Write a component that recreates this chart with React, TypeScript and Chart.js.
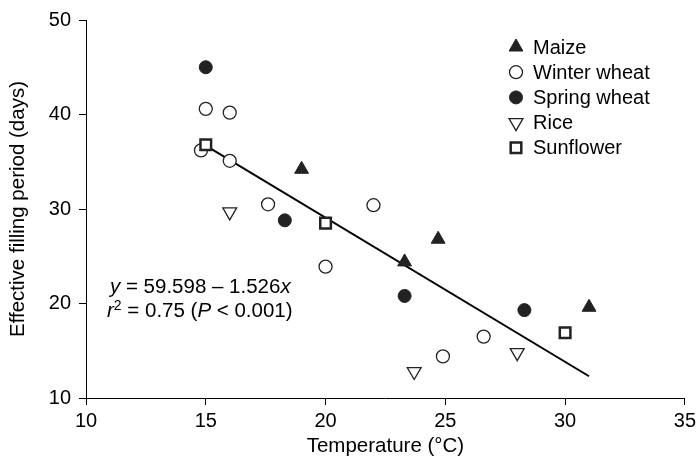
import React, { useEffect, useRef } from 'react';
import { Chart, registerables } from 'chart.js';
import { drawPoint } from 'chart.js/helpers';

Chart.register(...registerables);

// ---- data ----
const xTickValues = [10, 15, 20, 25, 30, 35];
const yTickValues = [10, 20, 30, 40, 50];

const maizeTemp = [19, 23.3, 24.7, 31];
const maizeDays = [34.2, 24.4, 26.8, 19.6];

const winterTemp = [14.8, 15, 16, 16, 17.6, 20, 22, 24.9, 26.6];
const winterDays = [36.2, 40.6, 40.2, 35.1, 30.5, 23.9, 30.4, 14.4, 16.5];

const springTemp = [15, 18.3, 23.3, 28.3];
const springDays = [45, 28.8, 20.8, 19.3];

const riceTemp = [16, 23.7, 28];
const riceDays = [29.7, 12.8, 14.8];

const sunflowerTemp = [15, 20, 30];
const sunflowerDays = [36.8, 28.5, 16.9];

const fitTemp = [15, 31];
const fitDays = [36.7, 12.3];

const seriesNames = ['Maize', 'Winter wheat', 'Spring wheat', 'Rice', 'Sunflower'];
const xTitle = 'Temperature (°C)';
const yTitle = 'Effective filling period (days)';

const FONT = '"Liberation Sans", Arial, Helvetica, sans-serif';
const DARK = '#222222';

const pts = (xs: number[], ys: number[]) => xs.map((x, i) => ({ x, y: ys[i] }));

const legendPlugin = {
  id: 'customLegend',
  afterDraw(chart: any) {
    const ctx = chart.ctx as CanvasRenderingContext2D;
    ctx.save();
    const x0 = 516;
    const y0 = 47;
    const dy = 25.2;
    const sets = chart.data.datasets
      .filter((d: any) => d.legendIndex !== undefined)
      .sort((a: any, b: any) => a.legendIndex - b.legendIndex);
    sets.forEach((ds: any, i: number) => {
      const y = y0 + i * dy;
      ctx.fillStyle = ds.backgroundColor;
      ctx.strokeStyle = ds.borderColor;
      ctx.lineWidth = ds.borderWidth;
      drawPoint(
        ctx,
        {
          pointStyle: ds.pointStyle,
          rotation: ds.pointRotation || 0,
          radius: ds.pointRadius,
          borderWidth: ds.borderWidth,
        } as any,
        x0,
        y
      );
      ctx.fillStyle = '#000';
      ctx.font = `20px ${FONT}`;
      ctx.textBaseline = 'middle';
      ctx.textAlign = 'left';
      ctx.fillText(ds.label, x0 + 17, y + 1);
    });
    ctx.restore();
  },
};

type Run = { t: string; italic?: boolean; sup?: boolean };

const annotationPlugin = {
  id: 'fitAnnotation',
  afterDraw(chart: any) {
    const ctx = chart.ctx as CanvasRenderingContext2D;
    ctx.save();
    ctx.fillStyle = '#000';
    ctx.textBaseline = 'alphabetic';
    ctx.textAlign = 'left';
    const lines: { x: number; y: number; runs: Run[] }[] = [
      {
        x: 110,
        y: 293,
        runs: [{ t: 'y', italic: true }, { t: ' = 59.598 – 1.526' }, { t: 'x', italic: true }],
      },
      {
        x: 107,
        y: 317,
        runs: [
          { t: 'r', italic: true },
          { t: '2', sup: true },
          { t: ' = 0.75 (' },
          { t: 'P', italic: true },
          { t: ' < 0.001)' },
        ],
      },
    ];
    lines.forEach((line) => {
      let x = line.x;
      line.runs.forEach((r) => {
        const size = r.sup ? 14 : 20.5;
        ctx.font = `${r.italic ? 'italic ' : ''}${size}px ${FONT}`;
        ctx.fillText(r.t, x, r.sup ? line.y - 7 : line.y);
        x += ctx.measureText(r.t).width;
      });
    });
    ctx.restore();
  },
};

export default function App() {
  const canvasRef = useRef<HTMLCanvasElement | null>(null);

  useEffect(() => {
    if (!canvasRef.current) return;
    const chart = new Chart(canvasRef.current, {
      type: 'scatter',
      data: {
        datasets: [
          {
            label: seriesNames[4],
            data: pts(sunflowerTemp, sunflowerDays),
            pointStyle: 'rect',
            pointRadius: 7.5,
            pointHoverRadius: 7.5,
            backgroundColor: '#ffffff',
            borderColor: DARK,
            borderWidth: 2.5,
            legendIndex: 4,
            order: 1,
          } as any,
          {
            label: seriesNames[0],
            data: pts(maizeTemp, maizeDays),
            pointStyle: 'triangle',
            pointRadius: 8,
            pointHoverRadius: 8,
            backgroundColor: DARK,
            borderColor: DARK,
            borderWidth: 1,
            legendIndex: 0,
            order: 2,
          } as any,
          {
            label: seriesNames[1],
            data: pts(winterTemp, winterDays),
            pointStyle: 'circle',
            pointRadius: 6.5,
            pointHoverRadius: 6.5,
            backgroundColor: '#ffffff',
            borderColor: DARK,
            borderWidth: 1.3,
            legendIndex: 1,
            order: 3,
          } as any,
          {
            label: seriesNames[2],
            data: pts(springTemp, springDays),
            pointStyle: 'circle',
            pointRadius: 6.5,
            pointHoverRadius: 6.5,
            backgroundColor: DARK,
            borderColor: DARK,
            borderWidth: 1,
            legendIndex: 2,
            order: 4,
          } as any,
          {
            label: seriesNames[3],
            data: pts(riceTemp, riceDays),
            pointStyle: 'triangle',
            pointRotation: 180,
            pointRadius: 8,
            pointHoverRadius: 8,
            backgroundColor: '#ffffff',
            borderColor: DARK,
            borderWidth: 1.3,
            legendIndex: 3,
            order: 5,
          } as any,
          {
            type: 'line',
            label: 'fit',
            data: pts(fitTemp, fitDays),
            borderColor: '#000',
            borderWidth: 2,
            pointRadius: 0,
            fill: false,
            showLine: true,
            order: 10,
          } as any,
        ],
      },
      options: {
        responsive: false,
        animation: false,
        events: [],
        layout: { padding: { left: 0, right: 15, top: 20, bottom: 0 } },
        plugins: {
          legend: { display: false },
          tooltip: { enabled: false },
        },
        scales: {
          x: {
            type: 'linear',
            min: 10,
            max: 35,
            afterFit: (s: any) => {
              s.height = 64;
            },
            afterBuildTicks: (s: any) => {
              s.ticks = xTickValues.map((v) => ({ value: v }));
            },
            grid: {
              display: true,
              drawOnChartArea: false,
              drawTicks: true,
              tickLength: 7,
              color: '#000',
              lineWidth: 1,
            },
            border: { display: true, color: '#000', width: 1 },
            ticks: {
              color: '#000',
              padding: 4,
              font: { family: FONT, size: 20 },
            },
            title: {
              display: true,
              text: xTitle,
              color: '#000',
              font: { family: FONT, size: 20.5 },
              padding: { top: 0, bottom: 3 },
            },
          },
          y: {
            type: 'linear',
            min: 10,
            max: 50,
            afterFit: (s: any) => {
              s.width = 86;
            },
            afterBuildTicks: (s: any) => {
              s.ticks = yTickValues.map((v) => ({ value: v }));
            },
            grid: {
              display: true,
              drawOnChartArea: false,
              drawTicks: true,
              tickLength: 7,
              color: '#000',
              lineWidth: 1,
            },
            border: { display: true, color: '#000', width: 1 },
            ticks: {
              color: '#000',
              padding: 8,
              font: { family: FONT, size: 20 },
            },
            title: {
              display: true,
              text: yTitle,
              color: '#000',
              font: { family: FONT, size: 20.5 },
              padding: { top: 6, bottom: 0 },
            },
          },
        },
      },
      plugins: [legendPlugin, annotationPlugin],
    });
    return () => chart.destroy();
  }, []);

  return (
    <div style={{ position: 'fixed', left: 0, top: 0, width: 700, height: 462, background: '#fff' }}>
      <canvas ref={canvasRef} width={700} height={462} style={{ width: 700, height: 462 }} />
    </div>
  );
}
